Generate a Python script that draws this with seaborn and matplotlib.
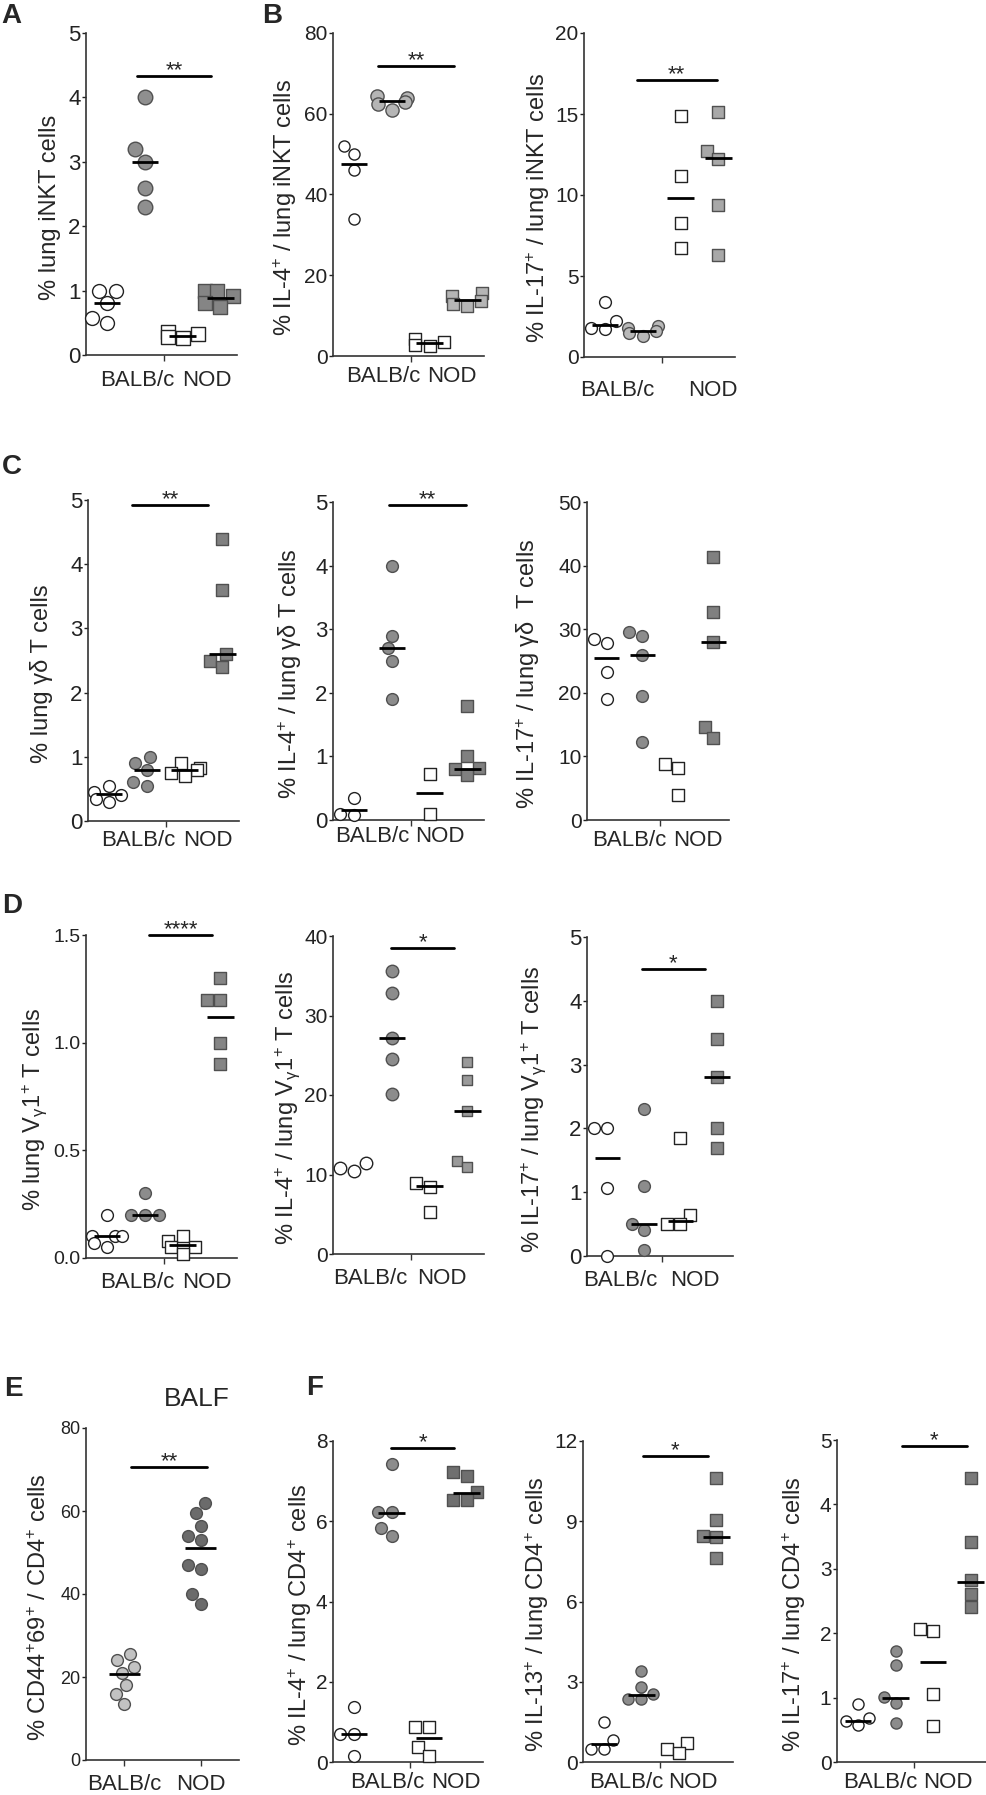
import matplotlib
matplotlib.use("Agg")
import matplotlib.pyplot as plt
import seaborn as sns
import pandas as pd
import numpy as np

# groups: BALB/c control (open circle), BALB/c treated (grey circle),
#         NOD control (open square), NOD treated (grey square)
groups = ["BALB/c ctrl", "BALB/c", "NOD ctrl", "NOD"]
groups_e = ["BALB/c", "NOD"]

# ---- values ----
a_vals = [[1.0, 1.0, 0.8, 0.57, 0.5], [4.0, 3.2, 3.0, 2.6, 2.3],
          [0.36, 0.32, 0.28, 0.26], [1.0, 1.0, 0.92, 0.8, 0.75]]
a_means = [0.8, 3.0, 0.29, 0.88]

b1_vals = [[52, 50, 46, 34], [64.5, 64, 63, 62.5, 61],
           [4.2, 3.5, 2.8, 2.5], [15.5, 14.8, 13.5, 13.0, 12.5]]
b1_means = [47.5, 63.2, 3.2, 13.8]

b2_vals = [[3.4, 2.2, 1.8, 1.7], [1.9, 1.8, 1.6, 1.5, 1.3],
           [14.9, 11.2, 8.3, 6.7], [15.1, 12.7, 12.2, 9.4, 6.3]]
b2_means = [2.0, 1.6, 9.8, 12.3]

c1_vals = [[0.55, 0.45, 0.4, 0.35, 0.3], [1.0, 0.9, 0.8, 0.6, 0.55],
           [0.9, 0.82, 0.8, 0.75, 0.7], [4.4, 3.6, 2.6, 2.5, 2.4]]
c1_means = [0.42, 0.8, 0.8, 2.6]

c2_vals = [[0.35, 0.1, 0.08], [4.0, 2.9, 2.7, 2.5, 1.9],
           [0.72, 0.1], [1.8, 1.0, 0.82, 0.8, 0.7]]
c2_means = [0.15, 2.7, 0.43, 0.8]

c3_vals = [[27.8, 28.5, 23.3, 19.0], [29.5, 28.9, 26.0, 19.5, 12.3],
           [8.8, 8.2, 4.0], [41.3, 32.7, 28.0, 14.6, 12.9]]
c3_means = [25.5, 26.0, None, 28.0]

d1_vals = [[0.2, 0.1, 0.1, 0.1, 0.07, 0.05], [0.3, 0.2, 0.2, 0.2],
           [0.1, 0.08, 0.05, 0.05, 0.02], [1.3, 1.2, 1.2, 1.0, 0.9]]
d1_means = [0.1, 0.2, 0.06, 1.12]

d2_vals = [[11.5, 10.8, 10.5], [35.6, 32.8, 27.2, 24.5, 20.1],
           [8.9, 8.4, 5.3], [24.2, 21.9, 18.0, 11.7, 10.9]]
d2_means = [None, 27.2, 8.6, 18.0]

d3_vals = [[2.0, 2.0, 1.07, 0.0], [2.3, 1.1, 0.5, 0.4, 0.1],
           [1.85, 0.65, 0.5, 0.5], [4.0, 3.4, 2.8, 2.0, 1.7]]
d3_means = [1.53, 0.5, 0.55, 2.8]

e_vals = [[25.5, 24, 22.5, 21, 18, 16, 13.5],
          [62, 59.5, 56.5, 54, 53, 47, 46, 40, 37.5]]
e_means = [20.8, 51.2]

f1_vals = [[1.37, 0.7, 0.7, 0.16], [7.43, 6.22, 6.22, 5.83, 5.62],
           [0.86, 0.86, 0.37, 0.16], [7.22, 7.13, 6.74, 6.54, 6.54]]
f1_means = [0.7, 6.2, 0.6, 6.7]

f2_vals = [[1.48, 0.83, 0.49, 0.49], [3.42, 2.82, 2.55, 2.35, 2.35],
           [0.71, 0.49, 0.34], [10.62, 9.04, 8.45, 8.42, 7.61]]
f2_means = [0.68, 2.5, None, 8.4]

f3_vals = [[0.9, 0.68, 0.63, 0.57], [1.72, 1.51, 1.01, 0.91, 0.6],
           [2.04, 2.07, 1.06, 0.56], [4.41, 3.41, 2.82, 2.61, 2.4]]
f3_means = [0.63, 1.0, 1.55, 2.8]

sns.set_style("ticks")
plt.rcParams["font.family"] = ["Liberation Sans Narrow", "Liberation Sans", "DejaVu Sans"]
plt.rcParams["mathtext.default"] = "regular"

W, H = 987, 1795
fig = plt.figure(figsize=(W / 100, H / 100), dpi=100)

OPEN = dict(color="white", edgecolor="#222222")


def grey(c):
    return dict(color=c, edgecolor="#505050")


def draw(box, vals, means, top, step, ylabel, lab_x, fills, sizes, sig, xlab, xoff,
         fmt="%g", tick_fs=16, names=groups, markers=("o", "o", "s", "s"), half=0.35):
    x0, x1, ytop, ybot = box
    ax = fig.add_axes([x0 / W, 1 - ybot / H, (x1 - x0) / W, (ybot - ytop) / H])
    df = pd.DataFrame({"group": [g for g, v in zip(names, vals) for _ in v],
                       "value": [x for v in vals for x in v]})
    for i, g in enumerate(names):
        sns.swarmplot(data=df[df.group == g], x="group", y="value", order=names, ax=ax,
                      marker=markers[i], size=sizes[i], linewidth=1, legend=False, **fills[i])
    for c in ax.collections:
        c.set_clip_on(False)
    for i, m in enumerate(means):
        if m is not None:
            ax.hlines(m, i - half, i + half, color="black", lw=2, zorder=10)

    n = len(names)
    if n == 4:
        ax.set_xlim(-0.56, 3.44)
        ax.set_xticks([1.5])
    else:
        ax.set_xlim(-0.5, 1.5)
        ax.set_xticks([0, 1])
    ax.set_xticklabels([""] * len(ax.get_xticks()))
    ax.set_xlabel("")
    ax.set_ylim(0, top)
    ticks = np.arange(0, top + step / 2, step)
    ax.set_yticks(ticks)
    ax.set_yticklabels([fmt % t for t in ticks])
    ax.tick_params(axis="y", length=3, width=1, labelsize=tick_fs, pad=1, colors="#222222")
    ax.tick_params(axis="x", length=4, width=1, colors="#333333")
    sns.despine(ax=ax)
    for s in ("left", "bottom"):
        ax.spines[s].set_color("#333333")
        ax.spines[s].set_linewidth(1.2)

    ax.set_ylabel(ylabel, fontsize=17)
    ax.yaxis.set_label_coords((lab_x - x0) / (x1 - x0), 0.46)
    ax.yaxis.label.set_verticalalignment("center")

    for xp, t in zip(xlab, ["BALB/c", "NOD"]):
        ax.annotate(t, xy=(xp, 0), xycoords=("data", "axes fraction"),
                    xytext=(0, -xoff * 0.72), textcoords="offset points",
                    ha="center", va="center", fontsize=16)
    if sig is not None:
        sx1, sx2, sy, stars = sig
        ax.plot([sx1, sx2], [sy, sy], color="black", lw=2, clip_on=False)
        ax.text((sx1 + sx2) / 2, sy, stars, ha="center", va="baseline", fontsize=16,
                family=["Liberation Sans", "DejaVu Sans"])
    return ax


# row A / B
draw((86, 237, 33, 355), a_vals, a_means, 5, 1, "% lung iNKT cells", 50,
     [OPEN, grey("#8f8f8f"), OPEN, grey("#858585")], [10, 10.5, 10, 10.5],
     (0.8, 2.75, 4.33, "**"), (0.79, 2.65), 25)
draw((333, 484, 33, 356), b1_vals, b1_means, 80, 20, "% IL-4$^{+}$ / lung iNKT cells", 285,
     [OPEN, grey("#b5b5b5"), OPEN, grey("#b5b5b5")], [8, 9.5, 9, 9],
     (0.63, 2.64, 71.8, "**"), (0.76, 2.59), 21, tick_fs=15)
draw((584, 735, 33, 357), b2_vals, b2_means, 20, 5, "% IL-17$^{+}$ / lung iNKT cells", 538,
     [OPEN, grey("#b8b8b8"), OPEN, grey("#a8a8a8")], [8.5, 8.5, 9, 9],
     (0.84, 2.95, 17.1, "**"), (0.31, 2.85), 33, tick_fs=15)

# row C
draw((88, 239, 500, 821), c1_vals, c1_means, 5, 1, "% lung γδ T cells", 42,
     [OPEN, grey("#8c8c8c"), OPEN, grey("#808080")], [8.5] * 4,
     (0.61, 2.62, 4.92, "**"), (0.76, 2.62), 19)
draw((333, 484, 502, 820), c2_vals, c2_means, 5, 1, "% IL-4$^{+}$ / lung γδ T cells", 290,
     [OPEN, grey("#8c8c8c"), OPEN, grey("#808080")], [8.5] * 4,
     (0.92, 2.96, 4.95, "**"), (0.47, 2.27), 17)
draw((587, 729, 502, 820), c3_vals, c3_means, 50, 10, "% IL-17$^{+}$ / lung γδ  T cells", 528,
     [OPEN, grey("#8c8c8c"), OPEN, grey("#808080")], [8.5] * 4,
     None, (0.62, 2.57), 20, tick_fs=15)

# row D
draw((86, 237, 935, 1258), d1_vals, d1_means, 1.5, 0.5, "% lung V$_{γ}$1$^{+}$ T cells", 35,
     [OPEN, grey("#8c8c8c"), OPEN, grey("#858585")], [8.5] * 4,
     (1.11, 2.78, 1.5, "****"), (0.79, 2.65), 25, fmt="%.1f", tick_fs=14)
draw((333, 484, 936, 1254), d2_vals, d2_means, 40, 10, "% IL-4$^{+}$ / lung V$_{γ}$1$^{+}$ T cells", 288,
     [OPEN, grey("#8c8c8c"), OPEN, grey("#9a9a9a")], [9, 9, 8.5, 7.5],
     (0.98, 2.65, 38.5, "*"), (0.42, 2.32), 25, tick_fs=15)
draw((587, 733, 937, 1256), d3_vals, d3_means, 5, 1, "% IL-17$^{+}$ / lung V$_{γ}$1$^{+}$ T cells", 534,
     [OPEN, grey("#8c8c8c"), OPEN, grey("#858585")], [8.5] * 4,
     (0.95, 2.67, 4.5, "*"), (0.34, 2.4), 25)

# row E / F
draw((86, 239, 1428, 1760), e_vals, e_means, 80, 20, "% CD44$^{+}$69$^{+}$ / CD4$^{+}$ cells", 40,
     [grey("#c2c2c2"), grey("#6b6b6b")], [8.5, 8.5],
     (0.09, 1.08, 70.6, "**"), (0, 1), 25, tick_fs=13, names=groups_e,
     markers=("o", "o"), half=0.2)
draw((333, 483, 1441, 1762), f1_vals, f1_means, 8, 2, "% IL-4$^{+}$ / lung CD4$^{+}$ cells", 300,
     [OPEN, grey("#8c8c8c"), OPEN, grey("#6f6f6f")], [8.5] * 4,
     (0.99, 2.67, 7.82, "*"), (0.88, 2.72), 21, tick_fs=15)
draw((583, 733, 1441, 1762), f2_vals, f2_means, 12, 3, "% IL-13$^{+}$ / lung CD4$^{+}$ cells", 537,
     [OPEN, grey("#8c8c8c"), OPEN, grey("#808080")], [8] * 4,
     (1.04, 2.77, 11.43, "*"), (0.59, 2.37), 21, tick_fs=15)
draw((837, 987, 1440, 1762), f3_vals, f3_means, 5, 1, "% IL-17$^{+}$ / lung CD4$^{+}$ cells", 794,
     [OPEN, grey("#8c8c8c"), OPEN, grey("#7a7a7a")], [8] * 4,
     (1.17, 2.91, 4.9, "*"), (0.59, 2.4), 21, tick_fs=15)

# panel letters and BALF title
for t, x, y in [("A", 11, 16), ("B", 272, 16), ("C", 12, 467), ("D", 12, 906),
                ("E", 13, 1389), ("F", 315, 1388)]:
    fig.text(x / W, 1 - y / H, t, ha="center", va="center", fontsize=20,
             fontweight="bold", family=["Liberation Sans", "DejaVu Sans"])
fig.text(197 / W, 1 - 1399 / H, "BALF", ha="center", va="center", fontsize=19)

fig.savefig("out.png", dpi=100)
